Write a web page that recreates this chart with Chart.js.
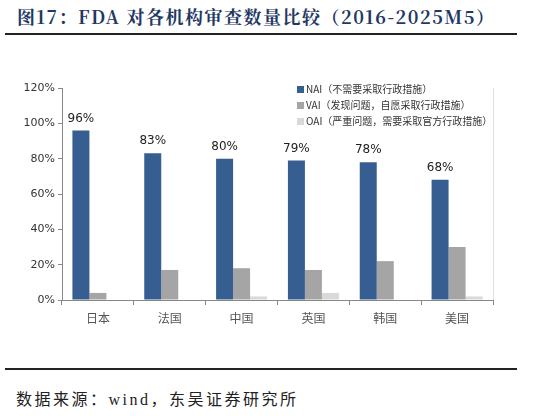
<!DOCTYPE html>
<html>
<head>
<meta charset="utf-8">
<script src="https://cdn.jsdelivr.net/npm/chart.js@4"></script>
<style>
  body { margin: 0; width: 534px; height: 416px; background: #fff; position: relative; font-family: "Noto Sans CJK SC", sans-serif; overflow: hidden; }
  #title { position: absolute; left: 17px; top: 3px; font: bold 18px "Noto Serif CJK SC", "Liberation Serif", "Noto Sans CJK SC", serif; letter-spacing: 1.5px; color: #1f3864; white-space: nowrap; }
  .rule { position: absolute; left: 5px; width: 512px; height: 2px; background: #222; }
  #src { position: absolute; left: 16px; top: 386px; font-size: 16px; letter-spacing: 2.5px; color: #222; font-family: "Liberation Serif", "Noto Sans CJK SC", serif; }
  #wrap { position: absolute; left: 20px; top: 75px; width: 480px; height: 255px; }
  #legend { position: absolute; left: 297px; top: 81px; font-size: 10px; color: #333; line-height: 16px; }
  #legend span.box { display: inline-block; width: 7px; height: 7px; margin-right: 2px; }
</style>
</head>
<body>
<div id="title">图17：FDA 对各机构审查数量比较（2016-2025M5）</div>
<div class="rule" style="top:33px"></div>
<div id="wrap"><canvas id="c"></canvas></div>
<div id="legend"></div>
<div class="rule" style="top:368px"></div>
<div id="src">数据来源：wind，东吴证券研究所</div>
<script>
const categories = ['日本', '法国', '中国', '英国', '韩国', '美国'];
const naiValues = [96, 83, 80, 79, 78, 68];
const vaiValues = [4, 17, 18, 17, 22, 30];
const oaiValues = [0, 0, 2, 4, 0, 2];
const seriesNames = ['NAI（不需要采取行政措施）', 'VAI（发现问题，自愿采取行政措施）', 'OAI（严重问题，需要采取官方行政措施）'];
const seriesColors = ['#375e91', '#a5a5a5', '#d9d9d9'];

document.getElementById('legend').innerHTML = seriesNames.map((n, i) =>
  `<div><span class="box" style="background:${seriesColors[i]}"></span>${n}</div>`).join('');

const labelPlugin = {
  id: 'naiLabels',
  afterDatasetsDraw(chart) {
    const ctx = chart.ctx;
    const meta = chart.getDatasetMeta(0);
    ctx.save();
    ctx.font = '12px "DejaVu Sans", sans-serif';
    ctx.fillStyle = '#222';
    ctx.textAlign = 'center';
    ctx.textBaseline = 'bottom';
    meta.data.forEach((bar, i) => ctx.fillText(naiValues[i] + '%', bar.x, bar.y - 6));
    // light right frame
    const a = chart.chartArea;
    ctx.strokeStyle = '#e0e0e0';
    ctx.beginPath(); ctx.moveTo(a.right + 0.5, a.top); ctx.lineTo(a.right + 0.5, a.bottom); ctx.stroke();
    ctx.restore();
  }
};

new Chart(document.getElementById('c'), {
  type: 'bar',
  data: {
    labels: categories,
    datasets: [
      { data: naiValues, backgroundColor: seriesColors[0] },
      { data: vaiValues, backgroundColor: seriesColors[1] },
      { data: oaiValues, backgroundColor: seriesColors[2] }
    ]
  },
  options: {
    responsive: true,
    maintainAspectRatio: false,
    animation: false,
    layout: { padding: { top: 13, right: 7 } },
    datasets: { bar: { categoryPercentage: 0.71, barPercentage: 1 } },
    plugins: { legend: { display: false }, tooltip: { enabled: false } },
    scales: {
      x: {
        afterFit(s) { s.height = 30; },
        grid: { offset: true, drawOnChartArea: false, tickLength: 5, color: '#888' },
        border: { color: '#888' },
        ticks: { color: '#555', font: { size: 12, family: '"Noto Sans CJK SC"' }, padding: 6 }
      },
      y: {
        min: 0, max: 120,
        afterFit(s) { s.width = 42; },
        grid: { drawOnChartArea: false, tickLength: 4, color: '#888' },
        border: { color: '#888' },
        ticks: { stepSize: 20, color: '#333', font: { size: 11, family: '"DejaVu Sans"' }, callback: v => v + '%' }
      }
    }
  },
  plugins: [labelPlugin]
});
</script>
</body>
</html>
